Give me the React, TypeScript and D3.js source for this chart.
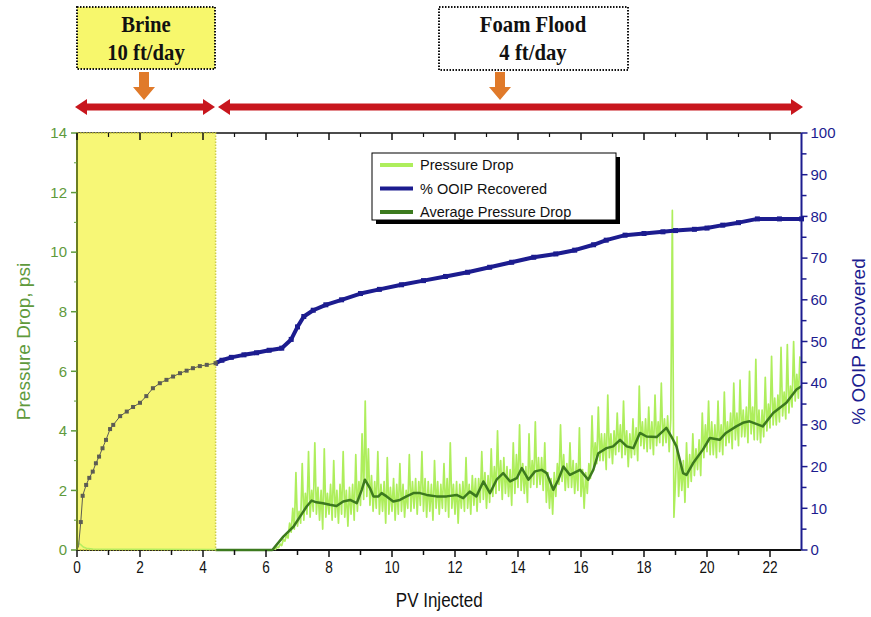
import React from "react";
import * as d3 from "d3";

// ---------- data ----------
const xTicks = [0, 2, 4, 6, 8, 10, 12, 14, 16, 18, 20, 22];
const leftTicks = [0, 2, 4, 6, 8, 10, 12, 14];
const rightTicks = [0, 10, 20, 30, 40, 50, 60, 70, 80, 90, 100];

// % OOIP recovered (PV, %)
const ooipPV = [0, 0.05, 0.12, 0.18, 0.29, 0.39, 0.5, 0.6, 0.7, 0.81, 0.92, 1.05, 1.15, 1.37, 1.58, 1.78, 2.0, 2.2, 2.41, 2.63, 2.84, 3.05, 3.27, 3.48, 3.68, 3.9, 4.12, 4.4,
  4.6, 4.9, 5.3, 5.7, 6.1, 6.5, 6.8, 7.0, 7.2, 7.5, 7.9, 8.4, 9.0, 9.6, 10.3, 11.0, 11.7, 12.4, 13.1, 13.8, 14.5, 15.2, 15.8, 16.4, 16.8, 17.4, 18.0, 18.6, 19.0, 19.6, 20.0, 20.5, 21.0, 21.6, 22.3, 23.0];
const ooipPct = [0, 1, 6.7, 13, 15.6, 17.3, 18.8, 20.8, 22.4, 24.4, 26.4, 29, 30, 32.1, 33.2, 34.3, 35.3, 36.9, 38.8, 40, 40.8, 41.6, 42.4, 43, 43.6, 44.1, 44.4, 44.8,
  45.5, 46.2, 46.8, 47.3, 47.9, 48.4, 50.5, 53.5, 56, 57.5, 58.8, 60, 61.5, 62.5, 63.6, 64.6, 65.6, 66.6, 67.8, 69, 70.2, 71, 71.9, 73.2, 74.3, 75.5, 75.9, 76.3, 76.6, 76.9, 77.2, 77.9, 78.5, 79.4, 79.4, 79.4];

// Average pressure drop (PV, psi)
const avgPV = [4.4, 6.2, 6.55, 6.87, 7.08, 7.29, 7.45, 7.6, 7.81, 8.03, 8.24, 8.45, 8.67, 8.88, 9.04, 9.14, 9.3, 9.41, 9.57, 9.67, 9.83, 10.04, 10.25, 10.46, 10.68, 10.89, 11.1, 11.41, 11.73, 12.05, 12.26, 12.47, 12.68, 12.9, 13.11, 13.32, 13.53, 13.75, 13.96, 14.12, 14.33, 14.54, 14.75, 14.91, 15.12, 15.28, 15.44, 15.65, 15.97, 16.23, 16.39, 16.55, 16.81, 17.02, 17.24, 17.45, 17.66, 17.87, 18.08, 18.4, 18.71, 18.87, 19.03, 19.24, 19.35, 19.56, 19.87, 20.09, 20.4, 20.6, 20.93, 21.14, 21.35, 21.77, 22.1, 22.52, 22.84, 23.0];
const avgPsi = [0, 0, 0.45, 0.78, 1.12, 1.46, 1.66, 1.6, 1.57, 1.52, 1.48, 1.63, 1.68, 1.57, 2.02, 2.36, 2.08, 1.8, 1.8, 1.91, 1.8, 1.63, 1.68, 1.8, 1.91, 1.91, 1.85, 1.8, 1.8, 1.85, 1.74, 1.96, 1.8, 2.3, 1.91, 2.36, 2.58, 2.3, 2.41, 2.75, 2.36, 2.64, 2.69, 2.58, 2.02, 2.36, 2.8, 2.52, 2.69, 2.36, 2.69, 3.25, 3.42, 3.48, 3.7, 3.48, 3.42, 3.93, 3.81, 3.79, 4.1, 3.81, 3.48, 2.58, 2.52, 2.92, 3.37, 3.76, 3.7, 3.93, 4.15, 4.27, 4.32, 4.15, 4.6, 4.94, 5.39, 5.5];

// Raw pressure drop during brine (PV, psi)
const brinePV = [0, 0.02, 0.06, 0.12, 0.2, 0.3, 0.5, 4.4];
const brinePsi = [0, 0.32, 0.22, 0.18, 0.1, 0.06, 0.03, 0.02];

// Raw pressure drop during foam flood, sampled every 0.05 PV from 6.2 PV
const rawStartPV = 6.2;
const rawStepPV = 0.05;
const rawPsi = [
  0, 0.05, 0.02, 0.1, 0.08, 0.2, 0.15, 0.35, 0.3, 0.5,
  0.4, 0.9, 0.6, 1.4, 0.7, 2.6, 0.8, 1.3, 0.9, 2.9,
  1.0, 1.9, 1.2, 3.3, 1.1, 2.0, 1.3, 3.6, 1.2, 2.1,
  1.0, 2.0, 0.7, 3.4, 1.1, 1.9, 1.2, 2.2, 1.0, 3.0,
  1.1, 2.0, 0.9, 2.2, 1.2, 3.3, 1.1, 2.0, 0.8, 2.1,
  1.2, 2.2, 1.0, 3.2, 1.3, 2.3, 1.5, 3.9, 1.7, 5.0,
  1.8, 3.4, 1.5, 2.5, 1.3, 2.3, 1.4, 3.3, 1.2, 2.2,
  1.3, 2.3, 0.9, 3.1, 1.2, 2.1, 1.3, 2.4, 1.0, 2.2,
  1.2, 2.9, 1.3, 2.2, 1.1, 2.0, 1.4, 3.2, 1.3, 2.3,
  1.4, 2.4, 1.2, 2.3, 1.5, 3.3, 1.3, 2.4, 1.1, 2.3,
  1.3, 2.2, 1.0, 3.0, 1.4, 2.3, 1.2, 2.2, 1.4, 2.9,
  1.3, 2.4, 1.1, 3.6, 1.4, 2.2, 1.2, 2.3, 0.9, 2.2,
  1.4, 2.3, 1.3, 3.1, 1.4, 2.2, 1.2, 2.5, 1.5, 2.4,
  1.3, 2.4, 1.6, 3.3, 1.7, 2.6, 1.4, 2.5, 1.6, 3.4,
  1.8, 2.8, 1.9, 4.0, 2.0, 3.0, 1.7, 3.1, 1.9, 2.8,
  1.8, 2.7, 1.5, 3.6, 1.9, 3.2, 2.1, 4.2, 2.0, 2.9,
  1.9, 2.8, 1.6, 3.9, 2.1, 3.0, 2.2, 4.3, 2.1, 3.1,
  2.2, 3.1, 2.0, 3.6, 1.6, 2.6, 1.4, 2.4, 1.2, 2.6,
  1.8, 2.9, 2.2, 4.2, 2.3, 3.2, 2.0, 2.9, 2.1, 3.6,
  2.1, 3.0, 1.9, 2.9, 2.0, 4.1, 1.8, 2.7, 1.4, 2.6,
  1.9, 2.9, 2.4, 4.5, 2.8, 3.6, 2.9, 4.8, 3.0, 3.9,
  3.0, 3.9, 2.7, 5.2, 3.1, 3.9, 2.9, 4.0, 3.2, 4.6,
  3.3, 4.2, 3.1, 5.0, 3.2, 4.0, 2.8, 3.9, 3.1, 4.4,
  3.2, 4.1, 3.0, 5.5, 3.5, 4.3, 3.4, 4.4, 3.3, 4.8,
  3.4, 4.3, 3.2, 5.2, 3.5, 4.3, 3.6, 5.6, 3.5, 4.4,
  3.6, 4.5, 3.3, 4.4, 11.4, 1.1, 2.3, 3.8, 1.8, 3.0,
  2.0, 3.0, 1.6, 3.6, 2.1, 3.2, 2.3, 3.9, 2.5, 3.4,
  2.7, 3.7, 2.5, 4.6, 3.1, 4.2, 3.3, 5.0, 3.2, 4.3,
  3.2, 4.2, 3.1, 5.0, 3.3, 4.2, 3.2, 5.3, 3.5, 4.3,
  3.6, 4.6, 3.4, 5.6, 3.7, 4.6, 3.5, 5.7, 3.8, 4.7,
  3.8, 4.8, 3.6, 6.0, 3.9, 4.8, 3.7, 6.4, 3.7, 4.7,
  3.6, 4.7, 3.8, 5.8, 4.0, 4.9, 4.1, 6.5, 4.2, 5.1,
  4.2, 5.2, 4.3, 6.8, 4.5, 5.3, 4.4, 6.9, 4.6, 5.5,
  4.8, 7.0, 5.0, 5.9, 5.1, 6.5,
];

const brineEndPV = 4.4;
const legendLabels = ["Pressure Drop", " % OOIP Recovered", "Average Pressure Drop"];

// ---------- component ----------
export default function App() {
  const W = 871, H = 617;
  const x = d3.scaleLinear().domain([0, 23]).range([77, 801.5]);
  const yL = d3.scaleLinear().domain([0, 14]).range([550, 133]);
  const yR = d3.scaleLinear().domain([0, 100]).range([550, 133]);

  const lineL = d3.line<[number, number]>().x((d) => x(d[0])).y((d) => yL(d[1]));
  const lineR = d3.line<[number, number]>().x((d) => x(d[0])).y((d) => yR(d[1]));

  const rawPts: [number, number][] = rawPsi.map((v, i) => [rawStartPV + i * rawStepPV, v]);
  const brinePts: [number, number][] = brinePV.map((v, i) => [v, brinePsi[i]]);
  const avgPts: [number, number][] = avgPV.map((v, i) => [v, avgPsi[i]]);
  const ooipPts: [number, number][] = ooipPV.map((v, i) => [v, ooipPct[i]]);
  const ooipBrine = ooipPts.filter((d) => d[0] <= brineEndPV);
  const ooipFoam = ooipPts.filter((d) => d[0] >= brineEndPV);

  const green = "#5f9a3c";
  const navy = "#1c1c8f";
  const yellow = "#f7f76c";
  const red = "#c8161d";
  const orange = "#e07a2a";
  const rawCol = "#aeee5c";
  const avgCol = "#3c7a1e";
  const sans = "'Liberation Sans', Arial, sans-serif";
  const serif = "'Liberation Serif', 'Times New Roman', serif";

  const minorX = d3.range(1, 23, 2);
  const minorL = d3.range(1, 14, 2);
  const minorR = d3.range(5, 100, 10);
  const xBr = x(brineEndPV);

  const dblArrow = (x1: number, x2: number, y: number) => {
    const sh = 3.5, hh = 8, hl = 12;
    return `M${x1},${y} L${x1 + hl},${y - hh} L${x1 + hl},${y - sh} L${x2 - hl},${y - sh} L${x2 - hl},${y - hh} L${x2},${y} L${x2 - hl},${y + hh} L${x2 - hl},${y + sh} L${x1 + hl},${y + sh} L${x1 + hl},${y + hh} Z`;
  };
  const downArrow = (cx: number, y1: number, y2: number) => {
    const sw = 5, hw = 11, hl = 13;
    return `M${cx - sw},${y1} L${cx + sw},${y1} L${cx + sw},${y2 - hl} L${cx + hw},${y2 - hl} L${cx},${y2} L${cx - hw},${y2 - hl} L${cx - sw},${y2 - hl} Z`;
  };

  return (
    <svg width={W} height={H} style={{ position: "absolute", left: 0, top: 0, background: "#fff" }}>
      {/* frame */}
      <line x1={x(0)} x2={x(23)} y1={yL(14)} y2={yL(14)} stroke="#111" strokeWidth={1.5} />
      <line x1={x(0)} x2={x(23)} y1={yL(0)} y2={yL(0)} stroke="#111" strokeWidth={2} />

      {/* raw pressure */}
      <path d={lineL(rawPts) || ""} fill="none" stroke={rawCol} strokeWidth={1.7} strokeLinejoin="round" />

      {/* OOIP foam section */}
      <path d={lineR(ooipFoam) || ""} fill="none" stroke={navy} strokeWidth={4} strokeLinejoin="round" />
      {ooipFoam.map((d, i) => (
        <rect key={i} x={x(d[0]) - 2.5} y={yR(d[1]) - 2.5} width={5} height={5} fill={navy} />
      ))}

      {/* average pressure */}
      <path d={lineL(avgPts) || ""} fill="none" stroke={avgCol} strokeWidth={2.5} strokeLinejoin="round" />

      {/* brine region */}
      <rect x={x(0)} y={yL(14)} width={xBr - x(0)} height={yL(0) - yL(14)} fill={yellow} opacity={0.93} stroke="#c9c93a" strokeWidth={1.5} strokeDasharray="1.5,1.5" />
      <path d={lineL(brinePts) || ""} fill="none" stroke="#b5ee60" strokeWidth={1.5} />
      <path d={lineR(ooipBrine) || ""} fill="none" stroke="#5c5c54" strokeWidth={1} />
      {ooipBrine.slice(2).map((d, i) => (
        <rect key={i} x={x(d[0]) - 2} y={yR(d[1]) - 2} width={4} height={4} fill="#5c5c54" />
      ))}

      {/* left axis */}
      <line x1={x(0)} x2={x(0)} y1={yL(0)} y2={yL(14)} stroke="#6b7d22" strokeWidth={2} />
      {leftTicks.map((t) => (
        <g key={t}>
          <line x1={x(0) - 6} x2={x(0)} y1={yL(t)} y2={yL(t)} stroke={green} strokeWidth={1.5} />
          <text x={x(0) - 10} y={yL(t)} dy="0.35em" textAnchor="end" fontFamily={sans} fontSize={15} fill={green}>{t}</text>
        </g>
      ))}
      {minorL.map((t) => (
        <line key={t} x1={x(0) - 3} x2={x(0)} y1={yL(t)} y2={yL(t)} stroke={green} strokeWidth={1} />
      ))}
      <text transform={`translate(23,${(yL(0) + yL(14)) / 2}) rotate(-90)`} textAnchor="middle" dy="0.35em" fontFamily={sans} fontSize={19} fill={green}>Pressure Drop, psi</text>

      {/* right axis */}
      <line x1={x(23)} x2={x(23)} y1={yR(0)} y2={yR(100)} stroke={navy} strokeWidth={2} />
      {rightTicks.map((t) => (
        <g key={t}>
          <line x1={x(23)} x2={x(23) + 6} y1={yR(t)} y2={yR(t)} stroke={navy} strokeWidth={1.5} />
          <text x={x(23) + 9} y={yR(t)} dy="0.35em" textAnchor="start" fontFamily={sans} fontSize={15} fill={navy}>{t}</text>
        </g>
      ))}
      {minorR.map((t) => (
        <line key={t} x1={x(23)} x2={x(23) + 5} y1={yR(t)} y2={yR(t)} stroke={navy} strokeWidth={1.5} />
      ))}
      <text transform={`translate(858,${(yR(0) + yR(100)) / 2}) rotate(-90)`} textAnchor="middle" dy="0.35em" fontFamily={sans} fontSize={19} fill={navy}>% OOIP Recovered</text>

      {/* bottom axis */}
      {xTicks.map((t) => (
        <g key={t}>
          <line x1={x(t)} x2={x(t)} y1={yL(0)} y2={yL(0) + 7} stroke="#111" strokeWidth={1.5} />
          <line x1={x(t)} x2={x(t)} y1={yL(14)} y2={yL(14) + 7} stroke="#111" strokeWidth={1.5} />
          <text transform={`translate(${x(t)},${yL(0) + 23}) scale(0.8,1)`} textAnchor="middle" fontFamily={sans} fontSize={17} fill="#111">{t}</text>
        </g>
      ))}
      {minorX.map((t) => (
        <g key={t}>
          <line x1={x(t)} x2={x(t)} y1={yL(0)} y2={yL(0) + 5} stroke="#111" strokeWidth={1.5} />
          <line x1={x(t)} x2={x(t)} y1={yL(14)} y2={yL(14) + 4} stroke="#111" strokeWidth={1.2} />
        </g>
      ))}
      <text transform={`translate(${(x(0) + x(23)) / 2},607) scale(0.85,1)`} textAnchor="middle" fontFamily={sans} fontSize={20} fill="#111">PV Injected</text>

      {/* legend */}
      <rect x={376} y={157} width={244} height={67} fill="#000" />
      <rect x={372} y={153} width={244} height={67} fill="#fff" stroke="#000" strokeWidth={1} />
      {legendLabels.map((lab, i) => {
        const cy = 165 + i * 23.5;
        const col = [rawCol, navy, avgCol][i];
        return (
          <g key={lab}>
            <line x1={380} x2={413} y1={cy} y2={cy} stroke={col} strokeWidth={4} />
            <text x={420} y={cy} dy="0.35em" fontFamily={sans} fontSize={14.5} fill="#111">{lab}</text>
          </g>
        );
      })}

      {/* top annotations */}
      <rect x={77} y={7} width={138} height={62} fill={yellow} stroke="#111" strokeWidth={2} strokeDasharray="1.5,1.5" />
      <text transform="translate(146,32) scale(0.9,1)" textAnchor="middle" fontFamily={serif} fontWeight="bold" fontSize={23} fill="#111">Brine</text>
      <text transform="translate(146,60) scale(0.9,1)" textAnchor="middle" fontFamily={serif} fontWeight="bold" fontSize={23} fill="#111">10 ft/day</text>
      <rect x={439} y={7} width={189} height={63} fill="#fff" stroke="#111" strokeWidth={2} strokeDasharray="1.5,1.5" />
      <text transform="translate(533,32) scale(0.9,1)" textAnchor="middle" fontFamily={serif} fontWeight="bold" fontSize={23} fill="#111">Foam Flood</text>
      <text transform="translate(533,60) scale(0.9,1)" textAnchor="middle" fontFamily={serif} fontWeight="bold" fontSize={23} fill="#111">4 ft/day</text>

      <path d={downArrow(144, 72, 100)} fill={orange} />
      <path d={downArrow(500, 72, 100)} fill={orange} />
      <path d={dblArrow(75, 215, 107)} fill={red} />
      <path d={dblArrow(218, 803, 107)} fill={red} />
    </svg>
  );
}
